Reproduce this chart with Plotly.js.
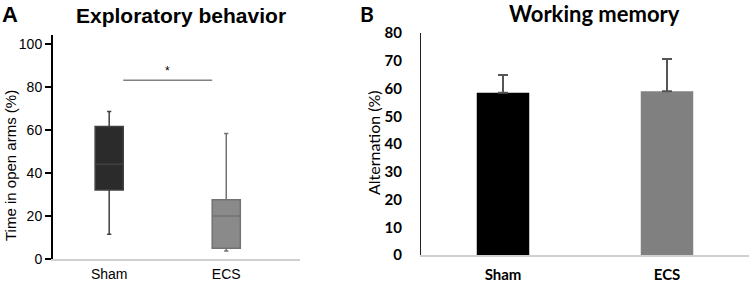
<!DOCTYPE html>
<html><head><meta charset="utf-8">
<script src="https://cdn.plot.ly/plotly-3.0.1.min.js"></script>
<style>html,body{margin:0;padding:0;background:#fff}#chart{width:749px;height:285px}</style>
</head><body><div id="chart"></div>
<script>
// Panel A: box plot (time in open arms, %)
const groupsA = ['Sham', 'ECS'];
const q1A = [32, 5];
const medianA = [44, 20];
const q3A = [61.5, 27.5];
const lowerA = [11.5, 3.7];
const upperA = [68.5, 58.3];
const sigLevel = 83;
const sigText = '*';
// Panel B: bar chart (alternation, %)
const groupsB = ['Sham', 'ECS'];
const meansB = [58.5, 59];
const errB = [6.4, 11.6];

const W = 749, H = 285;
const traces = [
  {type:'box', x:[groupsA[0]], q1:[q1A[0]], median:[medianA[0]], q3:[q3A[0]],
   lowerfence:[lowerA[0]], upperfence:[upperA[0]], xaxis:'x', yaxis:'y',
   fillcolor:'#2b2b2b', line:{color:'#404040', width:1.5}, width:0.24, whiskerwidth:0.15,
   hoverinfo:'skip', showlegend:false},
  {type:'box', x:[groupsA[1]], q1:[q1A[1]], median:[medianA[1]], q3:[q3A[1]],
   lowerfence:[lowerA[1]], upperfence:[upperA[1]], xaxis:'x', yaxis:'y',
   fillcolor:'#8a8a8a', line:{color:'#727272', width:1.5}, width:0.24, whiskerwidth:0.15,
   hoverinfo:'skip', showlegend:false},
  {type:'bar', x:groupsB, y:meansB, xaxis:'x2', yaxis:'y2', width:0.32,
   marker:{color:['#000000', '#808080']},
   error_y:{type:'data', symmetric:false, array:errB, arrayminus:[0,0], color:'#555555', thickness:2, width:5},
   showlegend:false, hoverinfo:'skip'}
];

const layout = {
  width: W, height: H, margin:{l:0, r:0, t:0, b:0},
  paper_bgcolor:'#fff', plot_bgcolor:'#fff', showlegend:false,
  xaxis:{domain:[53/W, 300/W], type:'category', range:[-0.48, 1.63],
    showgrid:false, zeroline:false, showline:true, linecolor:'#d0d0d0', linewidth:1.5,
    ticks:'', ticklabelstandoff:2, tickfont:{family:'Liberation Sans, Arial', size:14, color:'#000'}, anchor:'y'},
  yaxis:{domain:[26/H, 250/H], range:[0, 104], tickvals:[0,20,40,60,80,100],
    showgrid:false, zeroline:false, showline:true, linecolor:'#000', linewidth:2,
    ticks:'outside', ticklen:6, tickwidth:2, tickcolor:'#000',
    tickfont:{family:'Liberation Sans, Arial', size:14, color:'#000'}, anchor:'x'},
  xaxis2:{domain:[421/W, 1], type:'category', range:[-0.5, 1.5],
    showgrid:false, zeroline:false, showline:true, linecolor:'#d0d0d0', linewidth:1.5,
    ticks:'', ticklabelstandoff:5,
    tickfont:{family:'Lato, Open Sans', size:15, color:'#000', weight:'bold'}, anchor:'y2'},
  yaxis2:{domain:[30/H, 252/H], range:[0, 80], dtick:10,
    showgrid:false, zeroline:false, showline:true, linecolor:'#222', linewidth:1,
    ticks:'', ticklabelstandoff:15,
    tickfont:{family:'Lato, Open Sans', size:15, color:'#000', weight:'bold'}, anchor:'x2'},
  shapes:[
    {type:'line', xref:'x', yref:'y', x0:0.12, x1:0.88, y0:sigLevel, y1:sigLevel,
     line:{color:'#808080', width:1.5}}
  ],
  annotations:[
    {text:sigText, xref:'x', yref:'y', x:0.5, y:sigLevel, yanchor:'bottom', showarrow:false,
     font:{family:'Liberation Sans, Arial', size:12, color:'#000'}},
    {text:'<b>A</b>', xref:'paper', yref:'paper', x:0/W, y:1-15/H, xanchor:'left', yanchor:'middle',
     showarrow:false, font:{family:'Liberation Sans, Arial', size:22, color:'#000'}},
    {text:'<b>Exploratory behavior</b>', xref:'paper', yref:'paper', x:181/W, y:1-16/H,
     xanchor:'center', yanchor:'middle', showarrow:false,
     font:{family:'Liberation Sans, Arial', size:21, color:'#000'}},
    {text:'Time in open arms (%)', xref:'paper', yref:'paper', x:10/W, y:1-166/H,
     xanchor:'center', yanchor:'middle', textangle:-90, showarrow:false,
     font:{family:'Liberation Sans, Arial', size:15, color:'#000'}},
    {text:'<b>B</b>', xref:'paper', yref:'paper', x:367/W, y:1-13/H, xanchor:'center', yanchor:'middle',
     showarrow:false, font:{family:'Lato, Open Sans', size:21, color:'#000'}},
    {text:'<b>Working memory</b>', xref:'paper', yref:'paper', x:594/W, y:1-13/H,
     xanchor:'center', yanchor:'middle', showarrow:false,
     font:{family:'Lato, Open Sans', size:22, color:'#000'}},
    {text:'Alternation (%)', xref:'paper', yref:'paper', x:373/W, y:1-143/H,
     xanchor:'center', yanchor:'middle', textangle:-90, showarrow:false,
     font:{family:'Lato, Open Sans', size:16, color:'#000'}}
  ]
};
Plotly.newPlot('chart', traces, layout, {staticPlot:true, displayModeBar:false});
</script></body></html>
